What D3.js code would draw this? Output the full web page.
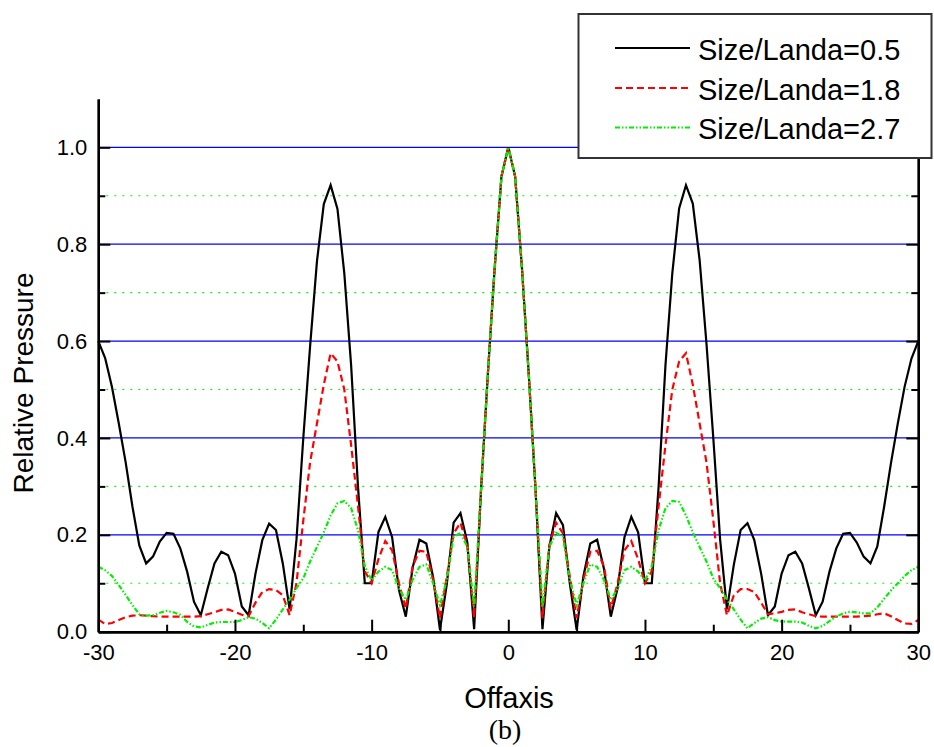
<!DOCTYPE html>
<html>
<head>
<meta charset="utf-8">
<script src="https://cdn.jsdelivr.net/npm/d3@7"></script>
<style>
  body { margin: 0; background: #fff; }
  text { font-family: "Liberation Sans", Arial, sans-serif; }
</style>
</head>
<body>
<div id="chart-area"></div>
<script>
// off-axis positions, -30 .. 30 in steps of 0.5
var offaxis = d3.range(-30, 30.25, 0.5);

var seriesNames = ['Size/Landa=0.5', 'Size/Landa=1.8', 'Size/Landa=2.7'];

var sizeLanda05 = [
    0.600, 0.565, 0.505, 0.430, 0.350, 0.258, 0.178, 0.141, 0.155, 0.186,
    0.204, 0.202, 0.172, 0.124, 0.062, 0.034, 0.089, 0.141, 0.165, 0.158,
    0.120, 0.052, 0.034, 0.120, 0.189, 0.223, 0.210, 0.141, 0.046, 0.190,
    0.400, 0.590, 0.765, 0.883, 0.922, 0.873, 0.740, 0.550, 0.300, 0.100,
    0.100, 0.206, 0.237, 0.195, 0.086, 0.031, 0.132, 0.190, 0.182, 0.112,
    0.004, 0.098, 0.225, 0.245, 0.185, 0.005, 0.290, 0.530, 0.750, 0.940,
    1.000,
    0.940, 0.750, 0.530, 0.290, 0.005, 0.175, 0.245, 0.220, 0.100, 0.004,
    0.115, 0.182, 0.190, 0.130, 0.031, 0.090, 0.195, 0.237, 0.205, 0.100,
    0.100, 0.300, 0.550, 0.740, 0.874, 0.922, 0.884, 0.767, 0.595, 0.400,
    0.190, 0.046, 0.138, 0.210, 0.224, 0.189, 0.120, 0.034, 0.052, 0.120,
    0.158, 0.165, 0.141, 0.089, 0.034, 0.062, 0.124, 0.172, 0.202, 0.204,
    0.184, 0.155, 0.141, 0.176, 0.258, 0.348, 0.430, 0.506, 0.564, 0.600
];

var sizeLanda18 = [
    0.025, 0.016, 0.018, 0.024, 0.030, 0.033, 0.034, 0.033, 0.032, 0.031,
    0.031, 0.031, 0.031, 0.031, 0.031, 0.032, 0.036, 0.040, 0.045, 0.046,
    0.041, 0.035, 0.032, 0.060, 0.082, 0.088, 0.086, 0.075, 0.034, 0.100,
    0.230, 0.350, 0.430, 0.510, 0.575, 0.558, 0.500, 0.385, 0.260, 0.125,
    0.100, 0.150, 0.187, 0.168, 0.100, 0.048, 0.135, 0.167, 0.165, 0.107,
    0.028, 0.114, 0.203, 0.225, 0.178, 0.028, 0.290, 0.530, 0.750, 0.940,
    1.000,
    0.940, 0.750, 0.530, 0.290, 0.028, 0.178, 0.225, 0.203, 0.114, 0.028,
    0.107, 0.165, 0.167, 0.135, 0.048, 0.100, 0.168, 0.187, 0.150, 0.100,
    0.125, 0.260, 0.385, 0.500, 0.558, 0.575, 0.510, 0.430, 0.350, 0.230,
    0.100, 0.034, 0.075, 0.088, 0.088, 0.082, 0.060, 0.036, 0.038, 0.041,
    0.045, 0.046, 0.040, 0.036, 0.032, 0.031, 0.031, 0.031, 0.031, 0.031,
    0.031, 0.032, 0.033, 0.036, 0.038, 0.032, 0.024, 0.017, 0.016, 0.024
];

var sizeLanda27 = [
    0.134, 0.127, 0.115, 0.096, 0.076, 0.055, 0.036, 0.033, 0.034, 0.039,
    0.043, 0.040, 0.035, 0.020, 0.011, 0.009, 0.014, 0.019, 0.020, 0.020,
    0.020, 0.024, 0.030, 0.027, 0.018, 0.007, 0.025, 0.046, 0.066, 0.090,
    0.110, 0.145, 0.175, 0.205, 0.240, 0.265, 0.270, 0.255, 0.210, 0.135,
    0.106, 0.124, 0.134, 0.127, 0.089, 0.066, 0.107, 0.134, 0.139, 0.100,
    0.055, 0.107, 0.196, 0.204, 0.175, 0.052, 0.290, 0.530, 0.750, 0.940,
    1.000,
    0.940, 0.750, 0.530, 0.290, 0.052, 0.175, 0.204, 0.196, 0.107, 0.055,
    0.100, 0.139, 0.134, 0.107, 0.066, 0.089, 0.127, 0.134, 0.124, 0.106,
    0.135, 0.210, 0.255, 0.270, 0.268, 0.240, 0.205, 0.175, 0.145, 0.110,
    0.090, 0.066, 0.046, 0.025, 0.007, 0.018, 0.027, 0.030, 0.024, 0.021,
    0.021, 0.021, 0.019, 0.012, 0.007, 0.012, 0.022, 0.031, 0.038, 0.041,
    0.040, 0.038, 0.038, 0.050, 0.068, 0.085, 0.100, 0.115, 0.127, 0.134
];

var xTicks = [-30, -20, -10, 0, 10, 20, 30];
var xMinorTicks = [-25, -15, -5, 5, 15, 25];
var yTicks = [0.0, 0.2, 0.4, 0.6, 0.8, 1.0];
var yMinorTicks = [0.1, 0.3, 0.5, 0.7, 0.9];

var margin = { left: 98.3, right: 15.7, top: 98.9, bottom: 115.3 };
var width = 934 - margin.left - margin.right,
    height = 747 - margin.top - margin.bottom;

var svg = d3.select('#chart-area')
    .append('svg')
    .attr('width', 934)
    .attr('height', 747);

var g = svg.append('g')
    .attr('transform', 'translate(' + margin.left + ', ' + margin.top + ')');

var x = d3.scaleLinear().domain([-30, 30]).range([0, width]);
var y = d3.scaleLinear().domain([0, 1.1]).range([height, 0]);

// grid lines
g.selectAll('.major-grid')
    .data(yTicks.slice(1))
    .enter()
    .append('line')
    .attr('class', 'major-grid')
    .attr('x1', 0).attr('x2', width)
    .attr('y1', function(d) { return y(d); })
    .attr('y2', function(d) { return y(d); })
    .attr('stroke', '#0000ff')
    .attr('stroke-width', 1.2);

g.selectAll('.minor-grid')
    .data(yMinorTicks)
    .enter()
    .append('line')
    .attr('class', 'minor-grid')
    .attr('x1', 0).attr('x2', width)
    .attr('y1', function(d) { return y(d); })
    .attr('y2', function(d) { return y(d); })
    .attr('stroke', '#00ff00')
    .attr('stroke-width', 1.2)
    .attr('stroke-dasharray', '2,6');

// curves
var series = [
    { name: seriesNames[0], values: sizeLanda05, color: '#000000', dash: null },
    { name: seriesNames[1], values: sizeLanda18, color: '#ff0000', dash: '7,4' },
    { name: seriesNames[2], values: sizeLanda27, color: '#00f000', dash: '5,2,1.5,2,1.5,2' }
];

var line = d3.line()
    .x(function(d, i) { return x(offaxis[i]); })
    .y(function(d) { return y(d); });

g.selectAll('.curve')
    .data(series)
    .enter()
    .append('path')
    .attr('class', 'curve')
    .attr('d', function(s) { return line(s.values); })
    .attr('fill', 'none')
    .attr('stroke', function(s) { return s.color; })
    .attr('stroke-width', 2.2)
    .attr('stroke-dasharray', function(s) { return s.dash; });

// axes
function styleAxis(sel) {
    sel.select('.domain').attr('stroke', '#000').attr('stroke-width', 2.4);
    sel.selectAll('.tick line').attr('stroke', '#000').attr('stroke-width', 2);
    sel.selectAll('text').attr('fill', '#000')
        .style('font-family', '"Liberation Sans", Arial, sans-serif');
}

var yAxis = g.append('g')
    .call(d3.axisLeft(y).tickValues(yTicks).tickSize(-12).tickSizeOuter(0)
        .tickPadding(11).tickFormat(d3.format('.1f')))
    .call(styleAxis);
yAxis.selectAll('text').attr('font-size', '22px');

g.append('g')
    .call(d3.axisLeft(y).tickValues(yMinorTicks).tickSize(-7).tickSizeOuter(0)
        .tickFormat(''))
    .call(styleAxis);

g.append('g')
    .attr('transform', 'translate(' + width + ', 0)')
    .call(d3.axisRight(y).tickValues(yTicks).tickSize(-12).tickSizeOuter(0)
        .tickFormat(''))
    .call(styleAxis);

g.append('g')
    .attr('transform', 'translate(' + width + ', 0)')
    .call(d3.axisRight(y).tickValues(yMinorTicks).tickSize(-7).tickSizeOuter(0)
        .tickFormat(''))
    .call(styleAxis);

var xAxis = g.append('g')
    .attr('transform', 'translate(0, ' + height + ')')
    .call(d3.axisBottom(x).tickValues(xTicks).tickSize(-12).tickSizeOuter(0)
        .tickPadding(13).tickFormat(function(d) { return String(d); }))
    .call(styleAxis);
xAxis.selectAll('text').attr('font-size', '22px');

g.append('g')
    .attr('transform', 'translate(0, ' + height + ')')
    .call(d3.axisBottom(x).tickValues(xMinorTicks).tickSize(-7).tickSizeOuter(0)
        .tickFormat(''))
    .call(styleAxis);

// axis titles
svg.append('text')
    .text('Offaxis')
    .attr('x', 509)
    .attr('y', 708)
    .attr('text-anchor', 'middle')
    .attr('font-size', '29px');

svg.append('text')
    .text('Relative Pressure')
    .attr('transform', 'translate(33, 383) rotate(-90)')
    .attr('text-anchor', 'middle')
    .attr('font-size', '28px');

svg.append('text')
    .text('(b)')
    .attr('x', 505)
    .attr('y', 739)
    .attr('text-anchor', 'middle')
    .attr('font-size', '28px')
    .style('font-family', '"Liberation Serif", "Times New Roman", serif');

// legend
var legend = svg.append('g');

legend.append('rect')
    .attr('x', 578.5)
    .attr('y', 14)
    .attr('width', 353)
    .attr('height', 144)
    .attr('fill', '#fff')
    .attr('stroke', '#333')
    .attr('stroke-width', 2);

var rows = legend.selectAll('.legend-row')
    .data(series)
    .enter()
    .append('g')
    .attr('class', 'legend-row')
    .attr('transform', function(d, i) { return 'translate(0, ' + [48, 88, 127.5][i] + ')'; });

rows.append('line')
    .attr('x1', 615).attr('x2', 690)
    .attr('y1', 0).attr('y2', 0)
    .attr('stroke', function(s) { return s.color; })
    .attr('stroke-width', 2)
    .attr('stroke-dasharray', function(s) { return s.dash; });

rows.append('text')
    .text(function(s) { return s.name; })
    .attr('x', 698)
    .attr('y', 11.5)
    .attr('font-size', '29px');
</script>
</body>
</html>
